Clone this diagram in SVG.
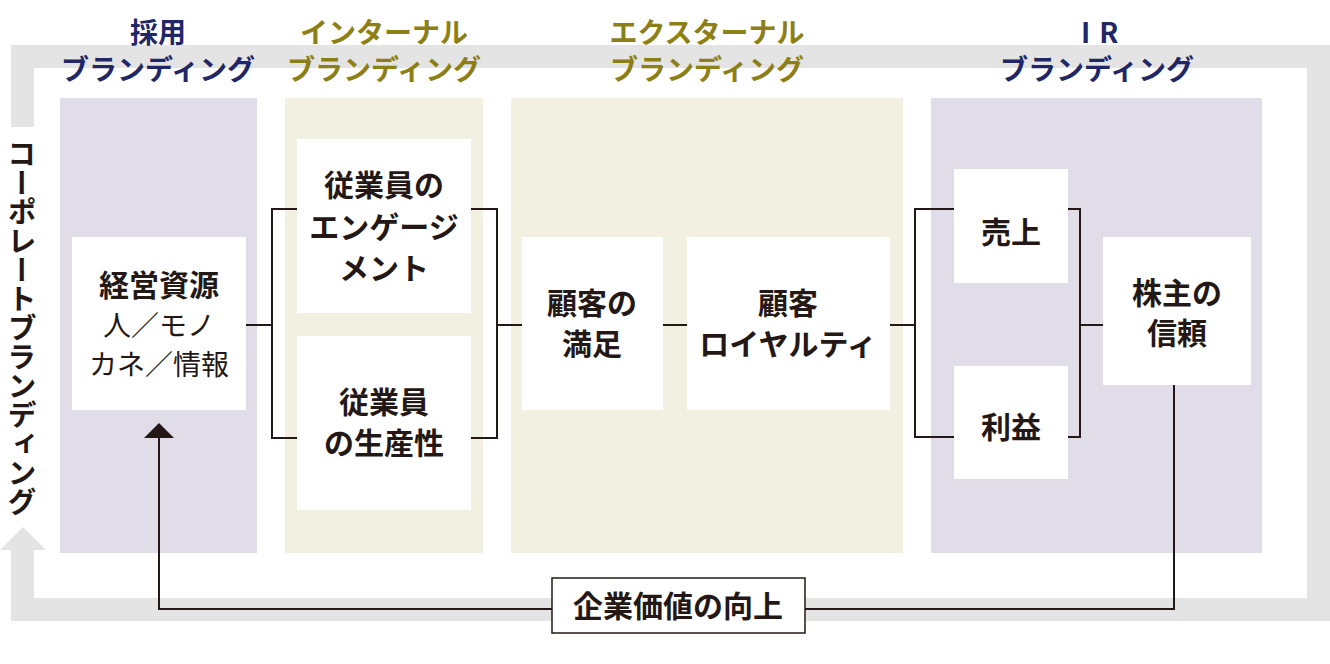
<svg xmlns="http://www.w3.org/2000/svg" width="1330" height="664" viewBox="0 0 1330 664">
<style>
.frame{fill:#e4e4e4}
.lav{fill:#e0dde9}
.beige{fill:#f2f0e1}
.box{fill:#ffffff}
.t{font-family:"Noto Sans CJK JP","Noto Sans",sans-serif;font-size:30px;font-weight:700;fill:#231815;text-anchor:middle}
.r{font-weight:400;font-size:28px}
.hn{font-family:"Noto Sans CJK JP","Noto Sans",sans-serif;font-size:28px;font-weight:700;fill:#1f2766;text-anchor:middle}
.ho{font-family:"Noto Sans CJK JP","Noto Sans",sans-serif;font-size:28px;font-weight:700;fill:#8c7f15;text-anchor:middle}
.ln{fill:none;stroke:#231815;stroke-width:2}
</style>
<rect width="1330" height="664" fill="#ffffff"/>
<g id="frame">
<rect class="frame" x="11" y="45" width="1319" height="23"/>
<rect class="frame" x="11" y="45" width="23" height="82"/>
<rect class="frame" x="1307" y="45" width="23" height="576"/>
<rect class="frame" x="11" y="598" width="1319" height="23"/>
<rect class="frame" x="11" y="549" width="23" height="72"/>
<polygon class="frame" points="23,527 0,550 46,550"/>
<text class="t" x="22" y="328" style="writing-mode:vertical-rl;font-size:29px">コーポレートブランディング</text>
</g>
<g id="panel-recruit">
<rect class="lav" x="60" y="98" width="197" height="455"/>
<text class="hn" x="158" y="43">採用</text>
<text class="hn" x="158" y="80">ブランディング</text>
</g>
<g id="panel-internal">
<rect class="beige" x="285" y="98" width="198" height="455"/>
<text class="ho" x="384" y="43">インターナル</text>
<text class="ho" x="384" y="80">ブランディング</text>
</g>
<g id="panel-external">
<rect class="beige" x="511" y="98" width="392" height="455"/>
<text class="ho" x="707" y="43">エクスターナル</text>
<text class="ho" x="707" y="80">ブランディング</text>
</g>
<g id="panel-ir">
<rect class="lav" x="931" y="98" width="331" height="455"/>
<text class="hn" x="1081" y="43" style="text-anchor:start" letter-spacing="9">IR</text>
<text class="hn" x="1097" y="80">ブランディング</text>
</g>
<g id="connectors">
<polyline class="ln" points="246,325 272,325"/>
<polyline class="ln" points="297,209 272,209 272,438 297,438"/>
<polyline class="ln" points="471,209 497,209 497,438 471,438"/>
<polyline class="ln" points="497,325 522,325"/>
<polyline class="ln" points="663,325 687,325"/>
<polyline class="ln" points="890,325 916,325"/>
<polyline class="ln" points="954,209 915,209 915,437 954,437"/>
<polyline class="ln" points="1068,209 1080,209 1080,437 1068,437"/>
<polyline class="ln" points="1080,325 1103,325"/>
<polyline class="ln" points="1174,385 1174,609 159,609 159,437"/>
<polygon points="159,423 144,438 174,438" fill="#231815"/>
</g>
<g id="node-resources">
<rect class="box" x="72" y="237" width="174" height="173"/>
<text class="t" x="159" y="296">経営資源</text>
<text class="t r" x="159" y="336">人／モノ</text>
<text class="t r" x="159" y="375">カネ／情報</text>
</g>
<g id="node-engagement">
<rect class="box" x="297" y="139" width="174" height="174"/>
<text class="t" x="384" y="196">従業員の</text>
<text class="t" x="384" y="238">エンゲージ</text>
<text class="t" x="384" y="279">メント</text>
</g>
<g id="node-productivity">
<rect class="box" x="297" y="336" width="174" height="174"/>
<text class="t" x="384" y="413">従業員</text>
<text class="t" x="384" y="454">の生産性</text>
</g>
<g id="node-satisfaction">
<rect class="box" x="522" y="237" width="141" height="173"/>
<text class="t" x="592" y="314">顧客の</text>
<text class="t" x="592" y="355">満足</text>
</g>
<g id="node-loyalty">
<rect class="box" x="687" y="237" width="203" height="173"/>
<text class="t" x="788" y="314">顧客</text>
<text class="t" x="788" y="355">ロイヤルティ</text>
</g>
<g id="node-sales">
<rect class="box" x="954" y="169" width="114" height="114"/>
<text class="t" x="1011" y="243">売上</text>
</g>
<g id="node-profit">
<rect class="box" x="954" y="366" width="114" height="113"/>
<text class="t" x="1011" y="438">利益</text>
</g>
<g id="node-trust">
<rect class="box" x="1103" y="237" width="148" height="148"/>
<text class="t" x="1177" y="304">株主の</text>
<text class="t" x="1177" y="344">信頼</text>
</g>
<g id="node-value">
<rect x="552" y="578" width="253" height="55" fill="#ffffff" stroke="#231815" stroke-width="1.5"/>
<text class="t" x="678" y="617">企業価値の向上</text>
</g>
</svg>
